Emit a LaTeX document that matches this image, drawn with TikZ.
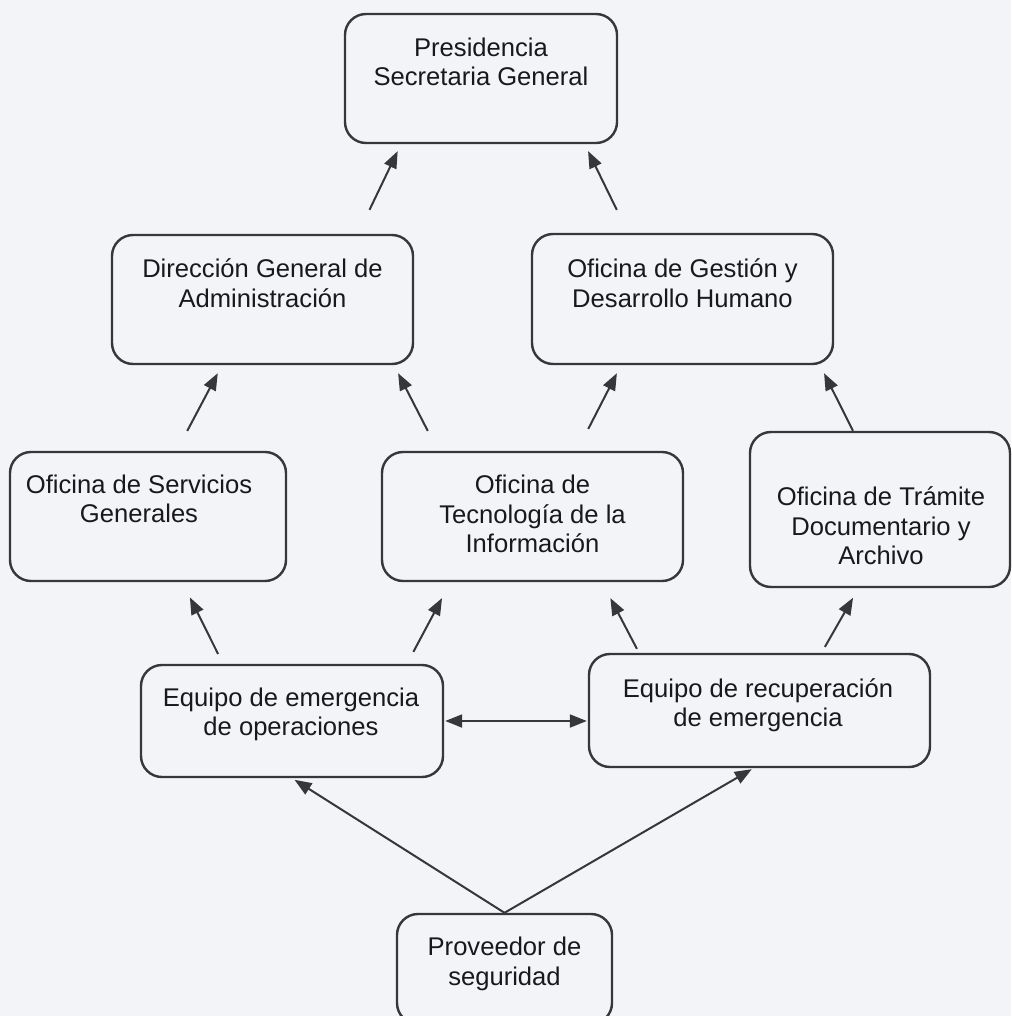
\documentclass[tikz,border=0pt]{standalone}
\usepackage{fontspec}
\setmainfont{Liberation Sans}
\usetikzlibrary{arrows.meta,calc}
\definecolor{bgc}{RGB}{243,244,247}
\definecolor{linec}{RGB}{55,55,58}
\definecolor{txtc}{RGB}{25,25,28}
\begin{document}
\begin{tikzpicture}[x=1pt,y=-1pt,
  orgbox/.style={draw=linec, line width=2.4pt, rounded corners=21pt, inner sep=0pt},
  lbl/.style={text=txtc, align=center, font=\fontsize{25.6}{29.5}\selectfont, inner sep=0pt},
  arr/.style={draw=linec, line width=2pt, -{Triangle[length=17pt,width=13pt]}},
  darr/.style={draw=linec, line width=2pt, {Triangle[length=17pt,width=13pt]}-{Triangle[length=17pt,width=13pt]}}]
\fill[bgc] (0,0) rectangle (1011,1016);
\useasboundingbox (0,0) rectangle (1011,1016);

% boxes
\node[orgbox, minimum width=272pt, minimum height=129pt] (pres) at (481,78.5) {};
\node[orgbox, minimum width=301pt, minimum height=129pt] (dirgen) at (262.5,299.5) {};
\node[orgbox, minimum width=301pt, minimum height=130pt] (gestion) at (682.5,299) {};
\node[orgbox, minimum width=276pt, minimum height=129pt] (servgen) at (148,516.5) {};
\node[orgbox, minimum width=301pt, minimum height=129pt] (ti) at (532.5,516.5) {};
\node[orgbox, minimum width=260pt, minimum height=155pt] (tramite) at (880,509.5) {};
\node[orgbox, minimum width=302pt, minimum height=112pt] (eqop) at (292,721) {};
\node[orgbox, minimum width=341pt, minimum height=113pt] (recup) at (759.5,710.5) {};
\node[orgbox, minimum width=215pt, minimum height=110pt] (prov) at (504.5,969) {};

% texts
\node[lbl] (presT) at (481,62) {Presidencia\\Secretaria General};
\node[lbl] (dirgenT) at (262.5,283) {Dirección General de\\Administración};
\node[lbl] (gestionT) at (682.5,283) {Oficina de Gestión y\\Desarrollo Humano};
\node[lbl] (servgenT) at (139,499) {Oficina de Servicios\\Generales};
\node[lbl] (tiT) at (532.5,514) {Oficina de\\Tecnología de la\\Información};
\node[lbl] (tramiteT) at (881,526) {Oficina de Trámite\\Documentario y\\Archivo};
\node[lbl] (eqopT) at (291,714.5) {Equipo de emergencia\hspace{16pt}\\de operaciones};
\node[lbl] (recupT) at (758,705) {Equipo de recuperación\\de emergencia};
\node[lbl] (provT) at (504.5,964) {Proveedor de\\seguridad};

% connectors
\draw[arr, shorten <=26.6pt, shorten >=7.7pt] ([xshift=95.5pt]dirgen.north) -- ([xshift=-80pt]pres.south);
\draw[arr, shorten <=25.5pt, shorten >=7.7pt] ([xshift=-54.5pt]gestion.north) -- ([xshift=103.7pt]pres.south);
\draw[arr, shorten <=22.5pt, shorten >=9pt] ([xshift=28.7pt]servgen.north) -- ([xshift=-40.5pt]dirgen.south);
\draw[arr, shorten <=22.4pt, shorten >=9pt] ([xshift=-94.5pt]ti.north) -- ([xshift=131.5pt]dirgen.south);
\draw[arr, shorten <=24.6pt, shorten >=9pt] ([xshift=44.5pt]ti.north) -- ([xshift=-61.5pt]gestion.south);
\draw[arr, shorten >=9pt] ([xshift=-27pt]tramite.north) -- ([xshift=137.5pt]gestion.south);
\draw[arr, shorten <=11pt, shorten >=17pt] ([xshift=-69pt]eqop.north) -- ([xshift=34.3pt]servgen.south);
\draw[arr, shorten <=13.5pt, shorten >=18pt] ([xshift=115pt]eqop.north) -- ([xshift=-82pt]ti.south);
\draw[arr, shorten <=4.5pt, shorten >=18pt] ([xshift=-120.5pt]recup.north) -- ([xshift=69.5pt]ti.south);
\draw[arr, shorten <=6.8pt, shorten >=11pt] ([xshift=62pt]recup.north) -- ([xshift=-21.5pt]tramite.south);
\draw[darr, shorten <=1pt, shorten >=1pt] (eqop.east) -- (eqop.east -| recup.west);
\draw[arr, shorten >=3pt] (prov.north) -- (eqop.south);
\draw[arr, shorten >=2pt] (prov.north) -- ([xshift=-6pt]recup.south);
\end{tikzpicture}
\end{document}
